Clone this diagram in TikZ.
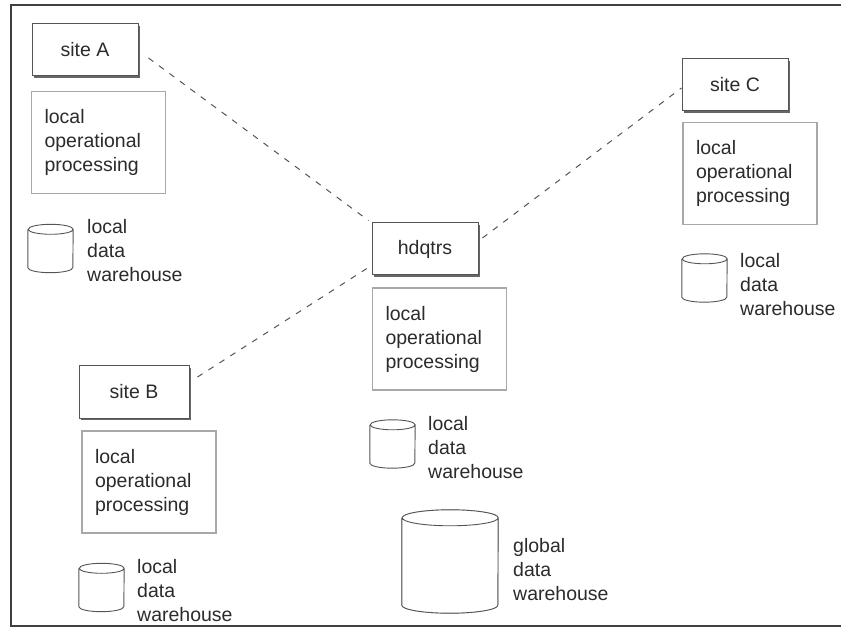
\documentclass[tikz,border=0pt]{standalone}
\usepackage{fontspec}
\setmainfont{Liberation Sans}
\usetikzlibrary{shadows}
\definecolor{ink}{HTML}{2B2B2B}
\definecolor{edge}{HTML}{555555}
\definecolor{dots}{HTML}{A8A8A8}
% drum outline around a node: #1 node name, #2 half width, #3 rim radius
\newcommand\drumoutline[4][]{%
  \filldraw[drum,#1] ([yshift=-#4]#2.north west) -- ([yshift=#4]#2.south west)
    arc[start angle=180,end angle=360,x radius=#3,y radius=#4]
    -- ([yshift=-#4]#2.north east)
    arc[start angle=0,end angle=180,x radius=#3,y radius=#4]
    arc[start angle=180,end angle=360,x radius=#3,y radius=#4];}
\begin{document}
\begin{tikzpicture}[x=1pt,y=-1pt,
  every node/.style={text=ink,font=\fontsize{19.5}{24}\selectfont},
  sitebox/.style={draw=edge,line width=1pt,fill=white,minimum width=106pt,minimum height=52pt,inner sep=0pt,
    drop shadow={shadow xshift=2pt,shadow yshift=-2pt,fill=black!60,opacity=1}},
  opbox/.style={draw=dots,line width=1.8pt,fill=white,align=left,text width=108pt,inner xsep=13pt,
    minimum width=134pt,minimum height=102pt},
  store/.style={inner sep=0pt,minimum width=45pt,minimum height=48pt},
  bigstore/.style={inner sep=0pt,minimum width=96pt,minimum height=103pt},
  drum/.style={draw=edge,fill=white,line width=0.9pt,line join=round},
  caption/.style={anchor=north west,align=left,inner sep=0pt},
  link/.style={draw=edge,line width=1pt,dash pattern=on 6pt off 7pt}]
\useasboundingbox (0,0) rectangle (841,628);
% outer frame, open on the right
\draw[black!75,line width=1.5pt] (841,5) -- (11,5) -- (11,626) -- (841,626);

% site A
\node[sitebox] (siteA) at (85,50) {site A};
\node[opbox] (opA) at (98.5,142.5) {local\\operational\\processing};
\node[store] (dbA) at (50.5,248.5) {};
\drumoutline{dbA}{22.5pt}{5pt}
\node[caption] (capA) at (87,219) {local\\data\\warehouse};

% headquarters
\node[sitebox] (hq) at (425,249) {hdqtrs};
\node[opbox] (opH) at (439.5,339) {local\\operational\\processing};
\node[store] (dbH) at (392.5,444) {};
\drumoutline{dbH}{22.5pt}{5pt}
\node[caption] (capH) at (428,416) {local\\data\\warehouse};
\node[bigstore] (gdw) at (450,561.5) {};
\drumoutline[draw=black!35,fill=black!35,xshift=2pt,yshift=-1.5pt]{gdw}{48pt}{8pt}
\drumoutline{gdw}{48pt}{8pt}
\node[caption] (capG) at (513,538) {global\\data\\warehouse};

% site C
\node[sitebox] (siteC) at (735,85) {site C};
\node[opbox] (opC) at (750,173.5) {local\\operational\\processing};
\node[store] (dbC) at (704.5,278) {};
\drumoutline{dbC}{22.5pt}{5pt}
\node[caption] (capC) at (740,253) {local\\data\\warehouse};

% site B
\node[sitebox,minimum width=110pt] (siteB) at (134,392) {site B};
\node[opbox] (opB) at (149,482) {local\\operational\\processing};
\node[store] (dbB) at (101.5,587.5) {};
\drumoutline{dbB}{22.5pt}{5pt}
\node[caption] (capB) at (137,559) {local\\data\\warehouse};

% network links
\draw[link] ([shift={(10,8)}]siteA.east) -- ([shift={(-3,-2)}]hq.north west);
\draw[link] ([shift={(4,-11)}]hq.east) -- ([shift={(0,3)}]siteC.west);
\draw[link] ([shift={(8,-15)}]siteB.east) -- ([shift={(0,-10)}]hq.south west);
\end{tikzpicture}
\end{document}
